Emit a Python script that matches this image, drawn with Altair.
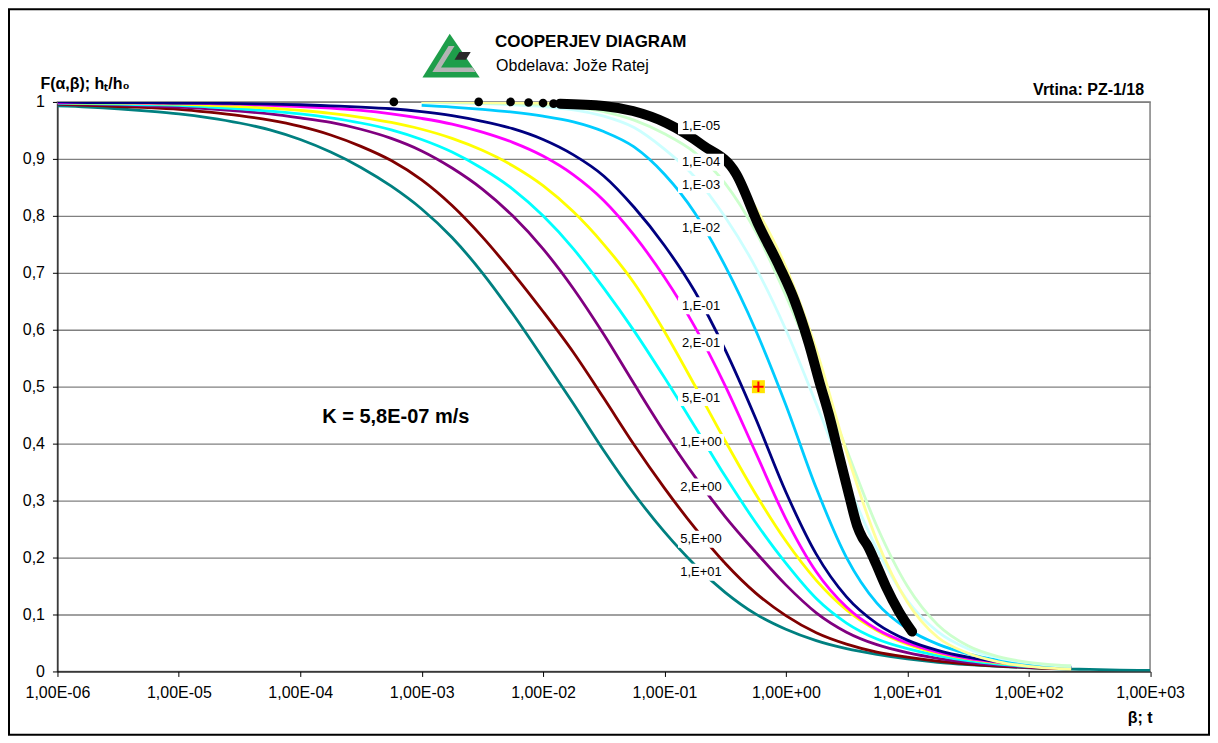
import altair as alt
import pandas as pd

# ---------------- data ----------------
beta = [1.0e-6, 1.78e-6, 3.16e-6, 5.62e-6,
        1.0e-5, 1.78e-5, 3.16e-5, 5.62e-5,
        1.0e-4, 1.78e-4, 3.16e-4, 5.62e-4,
        1.0e-3, 1.78e-3, 3.16e-3, 5.62e-3,
        1.0e-2, 1.78e-2, 3.16e-2, 5.62e-2,
        0.1, 0.178, 0.316, 0.562,
        1.0, 1.78, 3.16, 5.62,
        10.0, 17.8, 31.6, 56.2,
        100.0, 178.0, 224.0, 316.0, 562.0, 1000.0]

N = None
F_1e1 = [0.993, 0.991, 0.988, 0.984, 0.979, 0.972, 0.963, 0.951, 0.934, 0.912, 0.885, 0.852,
         0.812, 0.762, 0.700, 0.628, 0.55, 0.47, 0.388, 0.312, 0.245, 0.187, 0.139, 0.101,
         0.074, 0.054, 0.04, 0.03, 0.022, 0.016, 0.012, 0.009, 0.0065, 0.0047, 0.0042, 0.0035, 0.0025, 0.0018]
F_5e0 = [0.996, 0.994, 0.992, 0.99, 0.987, 0.982, 0.976, 0.968, 0.957, 0.942, 0.922, 0.897,
         0.863, 0.818, 0.763, 0.70, 0.632, 0.56, 0.48, 0.398, 0.322, 0.252, 0.19, 0.138,
         0.098, 0.068, 0.048, 0.034, 0.025, 0.018, 0.013, 0.0095, 0.007, 0.005, 0.0045, N, N, N]
F_2e0 = [0.997, 0.996, 0.995, 0.993, 0.991, 0.988, 0.984, 0.979, 0.972, 0.964, 0.952, 0.936,
         0.914, 0.884, 0.847, 0.80, 0.742, 0.672, 0.592, 0.505, 0.42, 0.342, 0.272, 0.21,
         0.152, 0.103, 0.069, 0.047, 0.033, 0.023, 0.016, 0.011, 0.0075, 0.0055, 0.005, N, N, N]
F_1e0 = [0.998, 0.997, 0.996, 0.995, 0.994, 0.991, 0.988, 0.984, 0.979, 0.972, 0.963, 0.951,
         0.934, 0.912, 0.883, 0.847, 0.80, 0.742, 0.673, 0.598, 0.516, 0.43, 0.343, 0.262,
         0.19, 0.128, 0.085, 0.057, 0.04, 0.028, 0.019, 0.013, 0.009, 0.0065, 0.006, N, N, N]
F_5e_1 = [0.999, 0.998, 0.998, 0.997, 0.996, 0.994, 0.992, 0.989, 0.985, 0.98, 0.973, 0.964,
          0.952, 0.936, 0.915, 0.888, 0.853, 0.807, 0.75, 0.682, 0.597, 0.502, 0.405, 0.312,
          0.229, 0.16, 0.108, 0.072, 0.048, 0.032, 0.022, 0.015, 0.01, 0.007, 0.006, N, N, N]
F_2e_1 = [0.999, 0.999, 0.999, 0.998, 0.998, 0.997, 0.996, 0.994, 0.992, 0.989, 0.985, 0.979,
          0.971, 0.961, 0.947, 0.929, 0.905, 0.872, 0.827, 0.766, 0.692, 0.605, 0.502, 0.385,
          0.268, 0.175, 0.113, 0.074, 0.05, 0.034, 0.023, 0.016, 0.011, 0.008, 0.007, N, N, N]
F_1e_1 = [1.0, 0.999, 0.999, 0.999, 0.998, 0.998, 0.997, 0.996, 0.995, 0.993, 0.991, 0.988,
          0.983, 0.976, 0.966, 0.953, 0.934, 0.907, 0.87, 0.815, 0.748, 0.667, 0.565, 0.445,
          0.315, 0.206, 0.131, 0.084, 0.055, 0.037, 0.025, 0.017, 0.012, 0.008, 0.007, N, N, N]
F_1e_2 = [N, N, N, N, N, N, N, N, N, N, N, N,
          0.994, 0.991, 0.987, 0.982, 0.975, 0.965, 0.948, 0.921, 0.873, 0.805, 0.712, 0.60,
          0.468, 0.322, 0.20, 0.12, 0.075, 0.048, 0.031, 0.02, 0.013, 0.009, 0.008, N, N, N]
F_1e_3 = [N, N, N, N, N, N, N, N, N, N, N, N,
          0.999, 0.998, 0.997, 0.995, 0.992, 0.986, 0.975, 0.955, 0.917, 0.868, 0.798, 0.71,
          0.60, 0.47, 0.335, 0.215, 0.125, 0.07, 0.04, 0.024, 0.015, 0.01, 0.009, N, N, N]
F_1e_4 = [N, N, N, N, N, N, N, N, N, N, N, N,
          1.0, 0.999, 0.998, 0.997, 0.995, 0.991, 0.983, 0.968, 0.944, 0.911, 0.857, 0.773,
          0.66, 0.53, 0.39, 0.255, 0.15, 0.082, 0.045, 0.026, 0.016, 0.011, 0.01, N, N, N]
F_1e_5 = [N, N, N, N, N, N, N, N, N, N, N, N,
          1.0, 1.0, 0.999, 0.999, 0.998, 0.996, 0.992, 0.983, 0.965, 0.94, 0.895, 0.815,
          0.71, 0.565, 0.385, 0.23, 0.122, 0.06, 0.032, 0.017, 0.009, 0.005, 0.004, N, N, N]

alpha_labels = ["1,E-05", "1,E-04", "1,E-03", "1,E-02", "1,E-01", "2,E-01",
                "5,E-01", "1,E+00", "2,E+00", "5,E+00", "1,E+01"]
alpha_colors = ["#FFFF99", "#CCFFCC", "#CCFFFF", "#00CCFF", "#000080", "#FF00FF",
                "#FFFF00", "#00FFFF", "#800080", "#800000", "#008080"]
alpha_series = [F_1e_5, F_1e_4, F_1e_3, F_1e_2, F_1e_1, F_2e_1,
                F_5e_1, F_1e0, F_2e0, F_5e0, F_1e1]

label_beta = [0.2] * 11
label_F = [0.958, 0.894, 0.855, 0.779, 0.642, 0.577, 0.481, 0.402, 0.324, 0.232, 0.174]

# measured data (h_t/h_0 against t)
dots_t = [5.9e-4, 2.95e-3, 5.4e-3, 7.6e-3, 1.0e-2, 1.22e-2]
dots_h = [1.0, 1.0, 1.0, 0.999, 0.998, 0.997]
band_t = [0.0138, 0.0316, 0.055, 0.1035, 0.2065, 0.389, 0.605, 0.885, 1.175, 1.55, 1.88,
          2.27, 2.74, 3.31, 3.88, 4.27, 4.68, 5.5, 6.64, 8.55, 10.96]
band_h = [0.997, 0.993, 0.984, 0.963, 0.924, 0.874, 0.781, 0.711, 0.652, 0.575, 0.51,
          0.45, 0.38, 0.31, 0.255, 0.235, 0.222, 0.19, 0.15, 0.105, 0.07]

match_t = [0.594]
match_h = [0.5]

x_tick_values = [1e-6, 1e-5, 1e-4, 1e-3, 1e-2, 1e-1, 1e0, 1e1, 1e2, 1e3]
x_tick_labels = ["1,00E-06", "1,00E-05", "1,00E-04", "1,00E-03", "1,00E-02",
                 "1,00E-01", "1,00E+00", "1,00E+01", "1,00E+02", "1,00E+03"]
y_tick_values = [0, 0.1, 0.2, 0.3, 0.4, 0.5, 0.6, 0.7, 0.8, 0.9, 1.0]
y_tick_labels = ["0", "0,1", "0,2", "0,3", "0,4", "0,5", "0,6", "0,7", "0,8", "0,9", "1"]

# ---------------- chart ----------------
FONT = "Liberation Sans"
W, H = 1093.5, 570

x_expr = " : ".join(f"datum.value < {v * 1.5} ? '{l}'" for v, l in zip(x_tick_values, x_tick_labels)) + " : ''"
y_expr = " : ".join(f"datum.value < {v + 0.05} ? '{l}'" for v, l in zip(y_tick_values, y_tick_labels)) + " : ''"

xscale = alt.Scale(type="log", domain=[1e-6, 1e3], nice=False)
yscale = alt.Scale(domain=[0, 1], nice=False, zero=False)

xaxis = alt.Axis(values=x_tick_values, labelExpr=x_expr, title=None, grid=False,
                 tickSize=5, tickColor="black", domainColor="black", labelColor="black",
                 labelFont=FONT, labelFontSize=16, labelPadding=8, labelFlush=False,
                 labelOverlap=False)
yaxis = alt.Axis(values=y_tick_values, labelExpr=y_expr, title=None, grid=True,
                 gridColor="#808080", gridWidth=1.3, tickSize=5, tickColor="black",
                 domainColor="black", labelColor="black", labelFont=FONT,
                 labelFontSize=16, labelPadding=8)

X = alt.X("beta:Q", scale=xscale, axis=xaxis)
Y = alt.Y("F:Q", scale=yscale, axis=yaxis)

layers = []
for lab, col, ys in reversed(list(zip(alpha_labels, alpha_colors, alpha_series))):
    df = pd.DataFrame({"beta": beta, "F": ys}).dropna()
    layers.append(
        alt.Chart(df).mark_line(color=col, strokeWidth=2.8, interpolate="monotone", clip=True)
        .encode(x=X, y=Y)
    )

band_df = pd.DataFrame({"beta": band_t, "F": band_h})
layers.append(
    alt.Chart(band_df).mark_line(color="black", strokeWidth=10, strokeCap="round",
                                 strokeJoin="round", interpolate="monotone")
    .encode(x=X, y=Y)
)
dots_df = pd.DataFrame({"beta": dots_t, "F": dots_h})
layers.append(
    alt.Chart(dots_df).mark_circle(color="black", size=75, opacity=1).encode(x=X, y=Y)
)

lab_df = pd.DataFrame({"beta": label_beta, "F": label_F, "label": alpha_labels})
layers.append(
    alt.Chart(lab_df).mark_point(shape="M-1,-0.37H1V0.37H-1Z", size=46 * 46, filled=True,
                                 fill="white", opacity=1, strokeWidth=0)
    .encode(x=X, y=Y)
)
layers.append(
    alt.Chart(lab_df).mark_text(font=FONT, fontSize=13, color="black", align="center",
                                baseline="middle")
    .encode(x=X, y=Y, text="label:N")
)

match_df = pd.DataFrame({"beta": match_t, "F": match_h})
layers.append(
    alt.Chart(match_df).mark_square(size=169, color="#FFE400", opacity=1).encode(x=X, y=Y)
)
layers.append(
    alt.Chart(match_df).mark_point(shape="M-1,0H1M0,-1V1", size=110, filled=False,
                                   stroke="#FF0000", strokeWidth=2, opacity=1)
    .encode(x=X, y=Y)
)


def note(text, x, y, size, weight="normal", align="left"):
    return alt.Chart(pd.DataFrame({"t": [text]})).mark_text(
        font=FONT, fontSize=size, fontWeight=weight, align=align, baseline="alphabetic",
        color="black"
    ).encode(x=alt.value(x), y=alt.value(y), text="t:N")


layers.append(note("K = 5,8E-07 m/s", 265, 321, 20, "bold"))
layers.append(note("COOPERJEV DIAGRAM", 438, -54.5, 17, "bold"))
layers.append(note("Obdelava: Jože Ratej", 439, -31, 16))
layers.append(note("Vrtina: PZ-1/18", 1087.5, -7, 16, "bold", "right"))
layers.append(note("F(α,β); hₜ/h₀", -17, -12.5, 16, "bold"))
layers.append(note("β; t", 1096, 622, 16, "bold", "right"))

# logo
one = pd.DataFrame({"k": [0]})
logo_parts = [
    ("M-0.95,0.73L-0.04,-0.73L0.96,0.73Z", "#1E9E4A"),
    ("M-0.62,0.55L-0.08,-0.32L0.12,-0.32L-0.33,0.4L0.72,0.4L0.82,0.55Z", "#B4B4B4"),
    ("M0.28,-0.12L0.66,-0.12L0.5,0.14L0.12,0.14Z", "#2A2A2A"),
]
for path, col in logo_parts:
    layers.append(
        alt.Chart(one).mark_point(shape=path, size=3600, filled=True, fill=col, opacity=1,
                                  strokeWidth=0)
        .encode(x=alt.value(393.8), y=alt.value(-46.4))
    )

# outer frame
layers.append(
    alt.Chart(one).mark_rect(fill="white", fillOpacity=0, stroke="black", strokeWidth=2)
    .encode(x=alt.value(-48.5), x2=alt.value(1152.5), y=alt.value(-92.7), y2=alt.value(633.3))
)

chart = alt.layer(*layers).properties(
    width=W, height=H,
    autosize=alt.AutoSizeParams(type="none"),
    padding={"left": 49.5, "top": 93.7, "right": 60, "bottom": 65.3},
    background="white",
).configure_view(stroke="#808080", strokeWidth=1.5)

chart.save("out.html", embed_options={"renderer": "svg", "actions": False})
